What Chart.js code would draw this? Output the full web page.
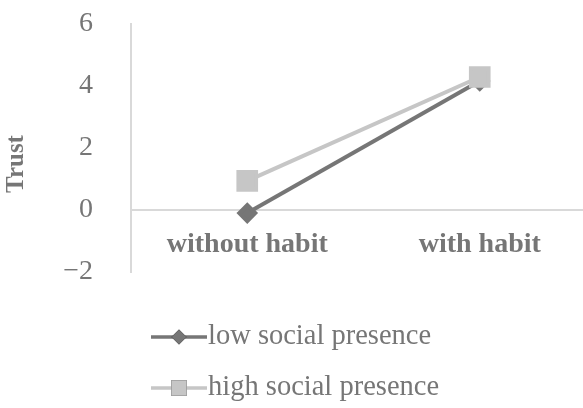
<!DOCTYPE html>
<html>
<head>
<meta charset="utf-8">
<script src="https://cdn.jsdelivr.net/npm/chart.js@4/dist/chart.umd.min.js"></script>
<style>
  html, body { margin: 0; padding: 0; background: #fff; overflow: hidden; }
  #wrap { width: 596px; height: 408px; }
</style>
</head>
<body>
<div id="wrap"><canvas id="c" width="596" height="408"></canvas></div>
<script>
// Trust by habit condition, for low and high social presence
const categories = ['without habit', 'with habit'];
const lowSocialPresence = [-0.1, 4.16];
const highSocialPresence = [0.94, 4.29];
const seriesNames = ['low social presence', 'high social presence'];
const yTicks = [-2, 0, 2, 4, 6];
const yTitle = 'Trust';

const TEXT = '#767676';
const AXIS = '#d9d9d9';
const DARK = '#767676';
const LIGHT = '#c6c6c6';
const SERIF = '"Liberation Serif", "Times New Roman", serif';

// Rotated y-axis title and a two-row legend (line + marker + label)
const decorations = {
  id: 'decorations',
  afterDraw(chart) {
    const ctx = chart.ctx;
    ctx.save();
    ctx.fillStyle = TEXT;
    ctx.font = 'bold 25px ' + SERIF;
    ctx.textAlign = 'center';
    ctx.textBaseline = 'middle';
    ctx.translate(17, 164);
    ctx.rotate(-Math.PI / 2);
    ctx.fillText(yTitle, 0, 0);
    ctx.restore();

    const rows = [337, 388];
    chart.data.datasets.forEach((ds, i) => {
      const y = rows[i];
      ctx.save();
      ctx.strokeStyle = ds.borderColor;
      ctx.lineWidth = 3.5;
      ctx.beginPath();
      ctx.moveTo(151, y);
      ctx.lineTo(207, y);
      ctx.stroke();
      Chart.helpers.drawPoint(ctx, {
        pointStyle: ds.pointStyle,
        radius: ds.legendRadius,
        borderWidth: 0
      }, 179, y);
      ctx.fillStyle = ds.pointBackgroundColor;
      ctx.fill();
      ctx.fillStyle = TEXT;
      ctx.font = '28.5px ' + SERIF;
      ctx.textAlign = 'left';
      ctx.textBaseline = 'middle';
      ctx.fillText(ds.label, 208, y);
      ctx.restore();
    });
  }
};

new Chart(document.getElementById('c'), {
  type: 'line',
  data: {
    labels: categories,
    datasets: [
      {
        label: seriesNames[0],
        data: lowSocialPresence,
        borderColor: DARK,
        backgroundColor: DARK,
        pointBackgroundColor: DARK,
        pointBorderColor: DARK,
        pointStyle: 'rectRot',
        pointRadius: 8,
        legendRadius: 7.5,
        borderWidth: 4,
        order: 2
      },
      {
        label: seriesNames[1],
        data: highSocialPresence,
        borderColor: LIGHT,
        backgroundColor: LIGHT,
        pointBackgroundColor: LIGHT,
        pointBorderColor: LIGHT,
        pointStyle: 'rect',
        pointRadius: 12.5,
        legendRadius: 11,
        borderWidth: 4,
        order: 1
      }
    ]
  },
  options: {
    responsive: false,
    animation: false,
    events: [],
    layout: { autoPadding: false, padding: { top: 24, bottom: 136, left: 0, right: 0 } },
    plugins: { legend: { display: false }, tooltip: { enabled: false } },
    scales: {
      x: {
        position: { y: 0 },
        offset: true,
        afterFit(scale) { scale.height = 0; },
        grid: { display: false, drawTicks: false },
        border: { display: true, color: AXIS, width: 2 },
        ticks: {
          color: TEXT,
          padding: 18,
          font: { family: SERIF, size: 28, weight: 'bold' },
          maxRotation: 0
        }
      },
      y: {
        min: -2,
        max: 6,
        afterFit(scale) { scale.width = 131; },
        afterBuildTicks(scale) { scale.ticks = yTicks.map(v => ({ value: v })); },
        grid: {
          display: true,
          drawOnChartArea: false,
          drawTicks: true,
          tickLength: 38,
          tickColor: 'rgba(0,0,0,0)'
        },
        border: { display: true, color: AXIS, width: 2 },
        ticks: {
          color: TEXT,
          padding: 0,
          font: { family: SERIF, size: 28 },
          callback: v => (v < 0 ? '\u2212' + Math.abs(v) : String(v))
        }
      }
    }
  },
  plugins: [decorations]
});
</script>
</body>
</html>
